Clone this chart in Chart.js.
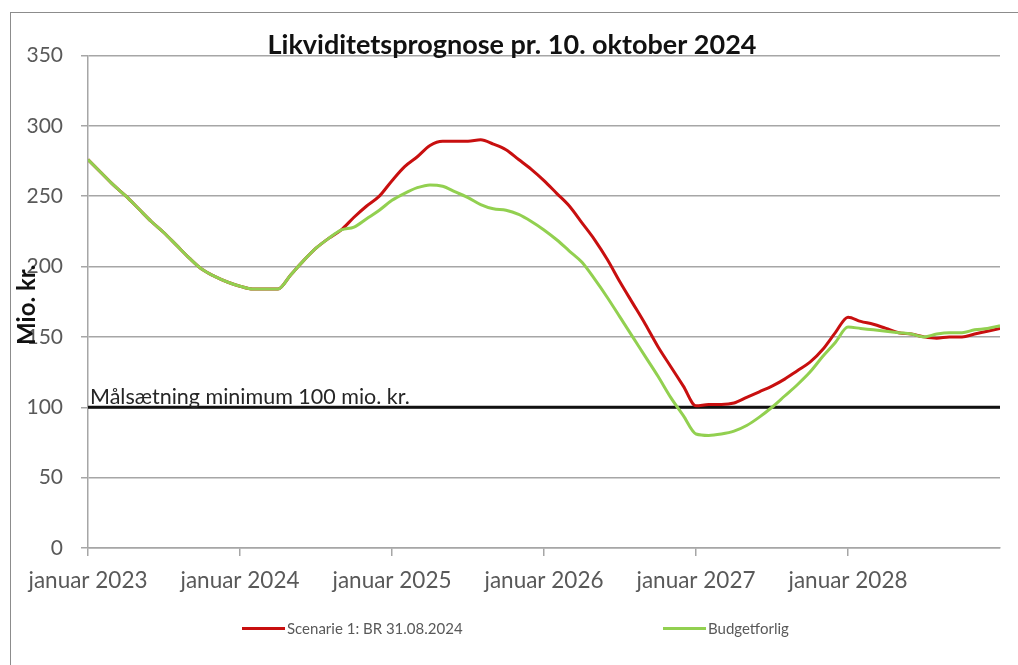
<!DOCTYPE html>
<html lang="da">
<head>
<meta charset="utf-8">
<title>Likviditetsprognose</title>
<script src="https://cdn.jsdelivr.net/npm/chart.js@4.4.1/dist/chart.umd.min.js"></script>
<style>
  html, body { margin: 0; padding: 0; background: #fff; }
  body { width: 1018px; height: 665px; position: relative; overflow: hidden; font-family: Lato, sans-serif; }
  #frame { position: absolute; left: 10px; top: 12px; width: 1020px; height: 670px;
           border-top: 1px solid #8c8c8c; border-left: 1px solid #8c8c8c; }
  #chart { position: absolute; left: 0; top: 0; }
  .legend-item { position: absolute; top: 619px; height: 18px; display: flex; align-items: center;
                 font-size: 15px; color: #595959; white-space: nowrap; }
  .legend-item .swatch { width: 43px; height: 3px; margin-right: 2px; }
</style>
</head>
<body>
<div id="frame"></div>
<canvas id="chart" width="1018" height="665"></canvas>
<div class="legend-item" id="legend0" style="left: 242px;"><span class="swatch"></span><span class="text"></span></div>
<div class="legend-item" id="legend1" style="left: 663px;"><span class="swatch"></span><span class="text"></span></div>

<script>
// Months since januar 2023 (one point per month, up to januar 2029)
const tickPositions = [0, 12, 24, 36, 48, 60];
const tickLabels = ["januar 2023", "januar 2024", "januar 2025", "januar 2026", "januar 2027", "januar 2028"];

const seriesNames = ["Scenarie 1: BR 31.08.2024", "Budgetforlig"];
const seriesColors = ["#c80f0f", "#92d050"];

// Scenarie 1 (mio. kr.)
const scenarie1 = [
  276, 267, 258, 250, 241, 232, 224, 215, 206, 198,
  193, 189, 186, 184, 184, 184, 194, 204, 213, 220,
  226, 235, 243, 250, 261, 271, 278, 286, 289, 289,
  289, 290, 287, 283, 276, 269, 261, 252, 243, 231,
  219, 205, 189, 174, 159, 143, 129, 115, 101, 102,
  102, 103, 107, 111, 115, 120, 126, 132, 141, 153,
  164, 161, 159, 156, 153, 152, 150, 149, 150, 150,
  152, 154, 156
];

// Budgetforlig (mio. kr.)
const budgetforlig = [
  276, 267, 258, 250, 241, 232, 224, 215, 206, 198,
  193, 189, 186, 184, 184, 184, 194, 204, 213, 220,
  226, 228, 234, 240, 247, 252, 256, 258, 257, 253,
  249, 244, 241, 240, 237, 232, 226, 219, 211, 203,
  191, 178, 164, 150, 136, 122, 107, 94, 81, 80,
  81, 83, 87, 93, 100, 108, 116, 125, 136, 146,
  157, 156, 155, 154, 153, 152, 150, 152, 153, 153,
  155, 156, 158
];

const targetValue = 100;
const targetLabel = "Målsætning minimum 100 mio. kr.";
const yTitle = "Mio. kr.";
const lastMonth = 72;

const toPoints = (values) => values.map((v, i) => ({ x: i, y: v }));

// Extra drawing: y axis title (it sits over the tick labels) and the target text
const extraText = {
  id: "extraText",
  afterDatasetsDraw(chart) {
    const { ctx, chartArea, scales } = chart;
    ctx.save();
    ctx.fillStyle = "#262626";
    ctx.font = "21.5px Lato";
    ctx.textAlign = "left";
    ctx.textBaseline = "alphabetic";
    ctx.fillText(targetLabel, chartArea.left + 2, scales.y.getPixelForValue(targetValue) - 3);
    ctx.restore();
  },
  afterDraw(chart) {
    const { ctx, chartArea } = chart;
    ctx.save();
    ctx.translate(chartArea.left - 61, (chartArea.top + chartArea.bottom) / 2 + 3);
    ctx.rotate(-Math.PI / 2);
    ctx.fillStyle = "#111";
    ctx.font = "bold 24px Lato";
    ctx.textAlign = "center";
    ctx.textBaseline = "middle";
    ctx.fillText(yTitle, 0, 0);
    ctx.restore();
  }
};

const gridColor = "#a6a6a6";
const tickColor = "#595959";

const ctx = document.getElementById("chart").getContext("2d");
const chart = new Chart(ctx, {
  type: "line",
  data: {
    datasets: [
      {
        label: seriesNames[0],
        data: toPoints(scenarie1),
        borderColor: seriesColors[0],
        backgroundColor: seriesColors[0],
        borderWidth: 3,
        pointRadius: 0,
        cubicInterpolationMode: "monotone",
        order: 2,
      },
      {
        label: seriesNames[1],
        data: toPoints(budgetforlig),
        borderColor: seriesColors[1],
        backgroundColor: seriesColors[1],
        borderWidth: 3,
        pointRadius: 0,
        cubicInterpolationMode: "monotone",
        order: 1,
      },
      {
        label: "target",
        data: [{ x: 0, y: targetValue }, { x: lastMonth, y: targetValue }],
        borderColor: "#111",
        borderWidth: 3,
        pointRadius: 0,
        order: 3,
      },
    ],
  },
  options: {
    responsive: false,
    animation: false,
    layout: { padding: { left: 24, right: 18, top: 0, bottom: 0 } },
    plugins: {
      legend: { display: false },
      tooltip: { enabled: false },
      title: {
        display: true,
        text: "Likviditetsprognose pr. 10. oktober 2024",
        color: "#111",
        font: { family: "Lato", size: 27, weight: "bold", lineHeight: 1.2 },
        padding: { top: 29, bottom: -6 },
      },
    },
    scales: {
      x: {
        type: "linear",
        min: 0,
        max: lastMonth,
        afterFit: (scale) => { scale.height = 117; },
        afterBuildTicks: (scale) => { scale.ticks = tickPositions.map((v) => ({ value: v })); },
        ticks: {
          autoSkip: false,
          maxRotation: 0,
          padding: 11,
          color: tickColor,
          font: { family: "Lato", size: 22.5 },
          callback: (value) => tickLabels[tickPositions.indexOf(value)] || "",
        },
        grid: { drawOnChartArea: false, drawTicks: true, tickLength: 8, color: gridColor, lineWidth: 1.5 },
        border: { color: gridColor, width: 1.5 },
      },
      y: {
        min: 0,
        max: 350,
        afterFit: (scale) => { scale.width = 64; },
        ticks: {
          stepSize: 50,
          padding: 18,
          color: tickColor,
          font: { family: "Lato", size: 21 },
        },
        grid: { color: gridColor, lineWidth: 1.5, tickLength: 7 },
        border: { color: gridColor, width: 1.5 },
      },
    },
  },
  plugins: [extraText],
});

// Legend drawn as HTML so the two items can sit far apart, as in the original
chart.data.datasets.slice(0, 2).forEach((ds, i) => {
  const item = document.getElementById("legend" + i);
  item.querySelector(".swatch").style.background = ds.borderColor;
  item.querySelector(".text").textContent = ds.label;
});
</script>
</body>
</html>
